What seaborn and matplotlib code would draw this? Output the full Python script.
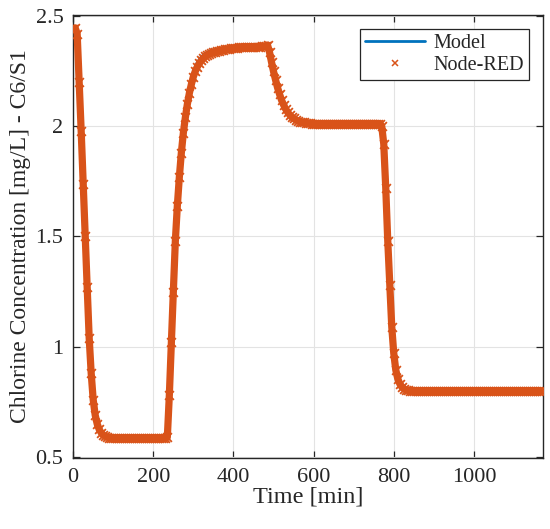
import numpy as np
import pandas as pd
import matplotlib
matplotlib.use("Agg")
import matplotlib.pyplot as plt
from matplotlib.lines import Line2D
from matplotlib.ticker import FuncFormatter
import seaborn as sns

# Node-RED samples, every 5 minutes from 0 to 1170 min
node_time = np.arange(0, 1171, 5)
node_conc = [
    # 0 - 95
    2.440, 2.446, 2.420, 2.200, 1.980, 1.740, 1.500, 1.270, 1.040, 0.880,
    0.760, 0.690, 0.650, 0.625, 0.610, 0.600, 0.594, 0.590, 0.588, 0.587,
    # 100 - 230
    0.586, 0.586, 0.586, 0.586, 0.586, 0.586, 0.586, 0.586, 0.586, 0.586,
    0.586, 0.586, 0.586, 0.586, 0.586, 0.586, 0.586, 0.586, 0.586, 0.586,
    0.586, 0.586, 0.586, 0.586, 0.586, 0.586, 0.586,
    # 235 - 410
    0.590, 0.780, 1.020, 1.250, 1.480, 1.640, 1.770, 1.880, 1.970, 2.040,
    2.100, 2.150, 2.190, 2.225, 2.250, 2.270, 2.285, 2.298, 2.308, 2.316,
    2.322, 2.327, 2.331, 2.335, 2.338, 2.341, 2.343, 2.345, 2.347, 2.349,
    2.350, 2.352, 2.353, 2.354, 2.355, 2.356,
    # 415 - 480
    2.357, 2.358, 2.358, 2.359, 2.359, 2.360, 2.360, 2.360, 2.361, 2.361,
    2.361, 2.362, 2.362, 2.362,
    # 485 - 590
    2.368, 2.335, 2.290, 2.248, 2.210, 2.175, 2.145, 2.118, 2.097, 2.078,
    2.064, 2.052, 2.042, 2.035, 2.029, 2.025, 2.021, 2.019, 2.017, 2.015,
    2.014, 2.013,
    # 595 - 765
    2.012, 2.012, 2.012, 2.012, 2.012, 2.012, 2.012, 2.012, 2.012, 2.012,
    2.012, 2.012, 2.012, 2.012, 2.012, 2.012, 2.012, 2.012, 2.012, 2.012,
    2.012, 2.012, 2.012, 2.012, 2.012, 2.012, 2.012, 2.012, 2.012, 2.012,
    2.012, 2.012, 2.012, 2.012, 2.012,
    # 770 - 835
    2.000, 1.920, 1.720, 1.480, 1.280, 1.090, 0.970, 0.895, 0.855, 0.832,
    0.818, 0.810, 0.805, 0.802,
    # 840 - 1170
    0.800, 0.800, 0.800, 0.800, 0.800, 0.800, 0.800, 0.800, 0.800, 0.800,
    0.800, 0.800, 0.800, 0.800, 0.800, 0.800, 0.800, 0.800, 0.800, 0.800,
    0.800, 0.800, 0.800, 0.800, 0.800, 0.800, 0.800, 0.800, 0.800, 0.800,
    0.800, 0.800, 0.800, 0.800, 0.800, 0.800, 0.800, 0.800, 0.800, 0.800,
    0.800, 0.800, 0.800, 0.800, 0.800, 0.800, 0.800, 0.800, 0.800, 0.800,
    0.800, 0.800, 0.800, 0.800, 0.800, 0.800, 0.800, 0.800, 0.800, 0.800,
    0.800, 0.800, 0.800, 0.800, 0.800, 0.800, 0.800,
]

# Model curve breakpoints
model_time = [0, 8, 12, 20, 30, 40, 45, 50, 55, 60, 70, 80, 100, 234,
              240, 245, 250, 255, 260, 265, 270, 275, 280, 285, 290, 295,
              300, 305, 310, 320, 330, 340, 350, 370, 400, 450, 484,
              490, 495, 500, 510, 520, 530, 540, 550, 560, 580, 600,
              768, 775, 780, 785, 790, 795, 800, 805, 810, 815, 820, 830,
              840, 860, 1170]
model_conc = [2.440, 2.446, 2.420, 1.980, 1.500, 1.040, 0.880, 0.760, 0.690,
              0.650, 0.610, 0.594, 0.586, 0.586,
              0.790, 1.030, 1.260, 1.490, 1.660, 1.790, 1.900, 1.990, 2.060,
              2.120, 2.170, 2.210, 2.245, 2.270, 2.290, 2.315, 2.330, 2.340,
              2.346, 2.352, 2.356, 2.360, 2.366,
              2.335, 2.290, 2.248, 2.175, 2.118, 2.078, 2.052, 2.035, 2.025,
              2.015, 2.012,
              2.005, 1.930, 1.730, 1.490, 1.290, 1.100, 0.980, 0.910, 0.870,
              0.845, 0.830, 0.815, 0.806, 0.801, 0.800]

assert len(node_conc) == len(node_time)

blue = "#0072BD"
orange = "#D95319"
dark = "#262626"

sns.set_theme(style="ticks")
plt.rcParams["font.family"] = ["Liberation Serif", "DejaVu Serif"]

node_df = pd.DataFrame({"t": node_time, "c": node_conc})
model_df = pd.DataFrame({"t": model_time, "c": model_conc})

fig = plt.figure(figsize=(5.5, 5.29), dpi=100)
ax = fig.add_axes([0.133, 0.134, 0.854, 0.838])

sns.lineplot(data=model_df, x="t", y="c", ax=ax, color=blue, linewidth=2,
             zorder=2, legend=False)
# the Node-RED samples are so dense in the original that the x markers
# merge into a solid band; draw the band plus the markers
sns.lineplot(data=node_df, x="t", y="c", ax=ax, color=orange, linewidth=5.2,
             zorder=3, legend=False)
sns.scatterplot(data=node_df, x="t", y="c", ax=ax, color=orange, marker="x",
                s=40, linewidth=1.3, zorder=4, legend=False)

ax.set_xlim(0, 1172)
ax.set_ylim(0.495, 2.505)
ax.set_xticks([0, 200, 400, 600, 800, 1000])
ax.set_yticks([0.5, 1, 1.5, 2, 2.5])
ax.yaxis.set_major_formatter(FuncFormatter(lambda v, p: f"{v:g}"))

ax.grid(True, color="#e3e3e3", linewidth=0.8)
ax.set_axisbelow(True)
for sp in ax.spines.values():
    sp.set_visible(True)
    sp.set_color(dark)
    sp.set_linewidth(1.0)
ax.tick_params(direction="in", top=True, right=True, length=5, width=0.9,
               colors=dark, labelsize=16, pad=7)

ax.set_xlabel("Time [min]", fontsize=17.5, color=dark, labelpad=0)
ax.set_ylabel("Chlorine Concentration [mg/L] - C6/S1", fontsize=17,
              color=dark, labelpad=3)

handles = [
    Line2D([], [], color=blue, linewidth=2),
    Line2D([], [], color=orange, linestyle="none", marker="x",
           markersize=5, markeredgewidth=1.1),
]
leg = ax.legend(handles, ["Model", "Node-RED"], loc="upper right",
                fontsize=14.5, frameon=True, fancybox=False, framealpha=1,
                edgecolor=dark, handlelength=3.0, borderaxespad=0.7,
                borderpad=0.25, labelspacing=0.15, handletextpad=0.4)
leg.get_frame().set_linewidth(0.9)

fig.savefig("out.png", dpi=100)
